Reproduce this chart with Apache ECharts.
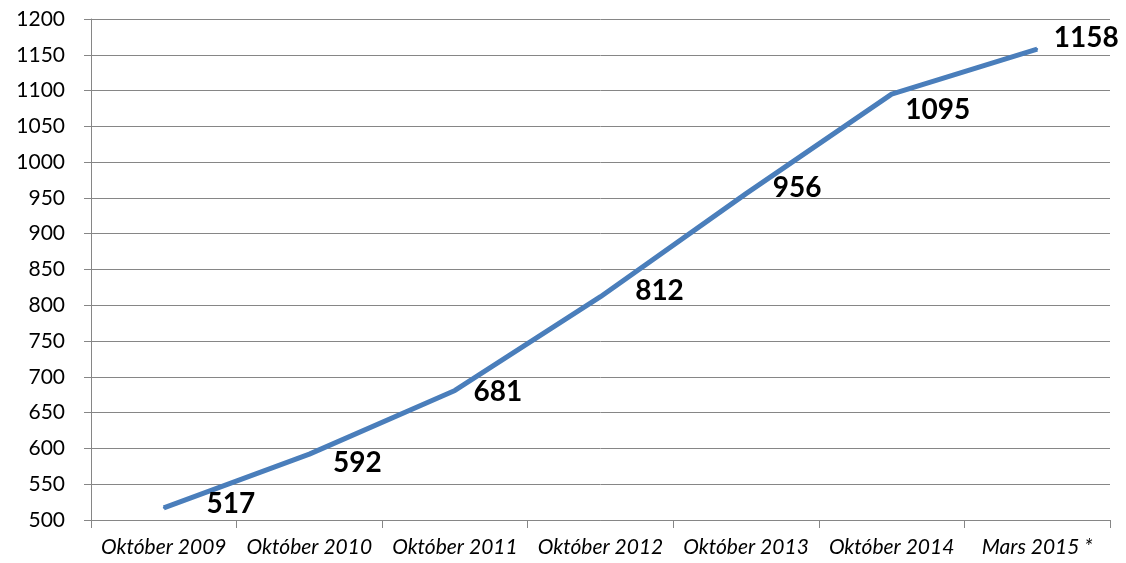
<!DOCTYPE html>
<html><head><meta charset="utf-8">
<script src="https://cdn.jsdelivr.net/npm/echarts@6/dist/echarts.min.js"></script>
<style>html,body{margin:0;padding:0;background:#fff}#c{width:1126px;height:563px}</style>
</head><body><div id="c"></div>
<script>
const categories = ['Október 2009','Október 2010','Október 2011','Október 2012','Október 2013','Október 2014','Mars 2015 *'];
const values = [517, 592, 681, 812, 956, 1095, 1158];
const yTicks = {min: 500, max: 1200, interval: 50};

// label offsets (style), per point, in px
const labelOffsets = [[67,-4],[48,9],[43,2],[59,-6],[51,-6],[46,16],[49,-11]];

const chart = echarts.init(document.getElementById('c'), null, {renderer:'canvas'});
chart.setOption({
  animation: false,
  grid: {left: 91, right: 16, top: 19, bottom: 43},
  xAxis: {
    type: 'category', data: categories, boundaryGap: true,
    axisLine: {lineStyle: {color: '#868686', width: 1}},
    axisTick: {show: true, length: 8, lineStyle: {color: '#868686'}},
    axisLabel: {fontFamily: 'Lato', fontStyle: 'italic', fontSize: 21, color: '#000', margin: 17, interval: 0}
  },
  yAxis: {
    type: 'value', min: yTicks.min, max: yTicks.max, interval: yTicks.interval,
    axisLine: {show: true, lineStyle: {color: '#868686', width: 1}},
    axisTick: {show: true, length: 7, lineStyle: {color: '#868686'}},
    splitLine: {lineStyle: {color: '#868686', width: 1}},
    axisLabel: {fontFamily: 'Lato', fontSize: 21, color: '#000', margin: 26, formatter: v => String(v)}
  },
  series: [{
    type: 'line', data: values.map((v, i) => ({
      value: v,
      label: {show: true, position: 'inside', offset: labelOffsets[i]}
    })),
    symbol: 'circle', symbolSize: 2, showSymbol: true,
    itemStyle: {color: '#4a7ebb'},
    lineStyle: {color: '#4a7ebb', width: 5},
    label: {show: true, position: 'inside', fontFamily: 'Lato', fontWeight: 'bold', fontSize: 28, color: '#000', formatter: p => String(p.value)}
  }]
});
</script></body></html>
